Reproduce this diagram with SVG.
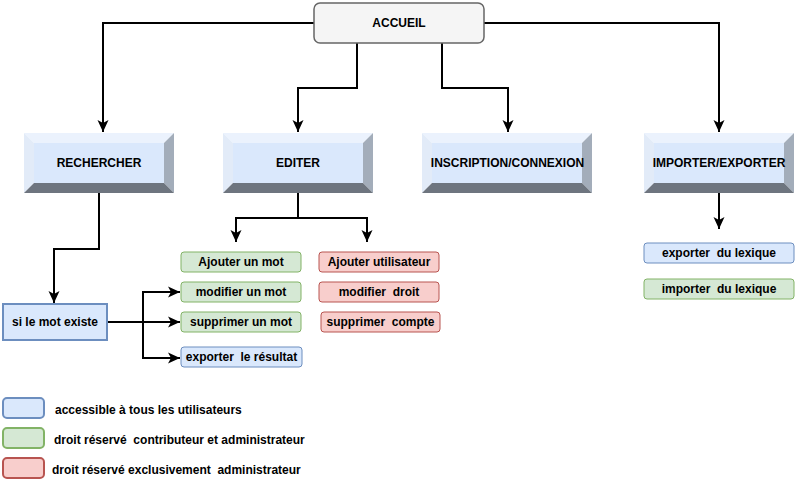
<svg xmlns="http://www.w3.org/2000/svg" width="797" height="500" viewBox="0 0 797 500">
<style>
text{font-family:"Liberation Sans",Arial,Helvetica,sans-serif;font-size:12px;font-weight:bold;fill:#000;white-space:pre}
.c{text-anchor:middle}
.conn path{fill:none;stroke:#000;stroke-width:2}
.bt{fill:#ebf2fd}.bl{fill:#e2ebf8}.br{fill:#a3adba}.bb{fill:#6e757f}.bi{fill:#dae8fc}
.blue{fill:#dae8fc;stroke:#6c8ebf;stroke-width:1}
.green{fill:#d5e8d4;stroke:#82b366;stroke-width:1}
.red{fill:#f8cecc;stroke:#b85450;stroke-width:1}
.thick{stroke-width:2}
</style>
<defs>
<marker id="arr" markerUnits="userSpaceOnUse" markerWidth="12" markerHeight="12" viewBox="0 0 12 12" refX="12" refY="6" orient="auto">
<path d="M0,0.5 L12,6 L0,11.5 L3,6 Z" fill="#000"/>
</marker>
</defs>
<rect width="797" height="500" fill="#fff"/>

<g class="conn">
<path d="M314,23 H103 V132" marker-end="url(#arr)"/>
<path d="M357,43 V88 H298 V132" marker-end="url(#arr)"/>
<path d="M442,43 V88 H508 V132" marker-end="url(#arr)"/>
<path d="M484,23 H719 V132" marker-end="url(#arr)"/>
<path d="M99,193 V249 H54 V303" marker-end="url(#arr)"/>
<path d="M298,193 V218 H236 V242" marker-end="url(#arr)"/>
<path d="M298,218 H367 V242" marker-end="url(#arr)"/>
<path d="M719,193 V229" marker-end="url(#arr)"/>
<path d="M107,322 H180" marker-end="url(#arr)"/>
<path d="M143,322 V292 H180" marker-end="url(#arr)"/>
<path d="M143,322 V358 H180" marker-end="url(#arr)"/>
</g>

<g id="accueil">
<rect x="314" y="3" width="170" height="40" rx="6" fill="#f5f5f5" stroke="#666" stroke-width="1.5"/>
<text x="399" y="27" class="c">ACCUEIL</text>
</g>

<g id="rechercher">
<polygon class="bt" points="24,133 174,133 164,143 34,143"/>
<polygon class="bl" points="24,133 34,143 34,183 24,193"/>
<polygon class="br" points="174,133 174,193 164,183 164,143"/>
<polygon class="bb" points="24,193 34,183 164,183 174,193"/>
<rect class="bi" x="34" y="143" width="130" height="40"/>
<text x="99" y="167" class="c">RECHERCHER</text>
</g>

<g id="editer">
<polygon class="bt" points="223,133 373,133 363,143 233,143"/>
<polygon class="bl" points="223,133 233,143 233,183 223,193"/>
<polygon class="br" points="373,133 373,193 363,183 363,143"/>
<polygon class="bb" points="223,193 233,183 363,183 373,193"/>
<rect class="bi" x="233" y="143" width="130" height="40"/>
<text x="298" y="167" class="c">EDITER</text>
</g>

<g id="inscription">
<polygon class="bt" points="422,133 592,133 582,143 432,143"/>
<polygon class="bl" points="422,133 432,143 432,183 422,193"/>
<polygon class="br" points="592,133 592,193 582,183 582,143"/>
<polygon class="bb" points="422,193 432,183 582,183 592,193"/>
<rect class="bi" x="432" y="143" width="150" height="40"/>
<text x="507.5" y="167" class="c">INSCRIPTION/CONNEXION</text>
</g>

<g id="importer">
<polygon class="bt" points="644,133 794,133 784,143 654,143"/>
<polygon class="bl" points="644,133 654,143 654,183 644,193"/>
<polygon class="br" points="794,133 794,193 784,183 784,143"/>
<polygon class="bb" points="644,193 654,183 784,183 794,193"/>
<rect class="bi" x="654" y="143" width="130" height="40"/>
<text x="719" y="167" class="c">IMPORTER/EXPORTER</text>
</g>

<g id="si-le-mot">
<rect class="blue thick" x="3" y="304" width="104" height="36"/>
<text x="55" y="326" class="c">si le mot existe</text>
</g>

<g id="ajouter-mot">
<rect class="green" x="181" y="252" width="120" height="20" rx="3"/>
<text x="241" y="266" class="c">Ajouter un mot</text>
</g>
<g id="modifier-mot">
<rect class="green" x="181" y="282" width="120" height="20" rx="3"/>
<text x="241" y="296" class="c">modifier un mot</text>
</g>
<g id="supprimer-mot">
<rect class="green" x="181" y="312" width="120" height="20" rx="3"/>
<text x="241" y="326" class="c">supprimer un mot</text>
</g>
<g id="exporter-resultat">
<rect class="blue" x="181" y="347" width="121" height="20" rx="3"/>
<text x="241.5" y="361" class="c">exporter  le résultat</text>
</g>

<g id="ajouter-utilisateur">
<rect class="red" x="319" y="252" width="120" height="20" rx="3"/>
<text x="379" y="266" class="c">Ajouter utilisateur</text>
</g>
<g id="modifier-droit">
<rect class="red" x="319" y="282" width="120" height="20" rx="3"/>
<text x="379" y="296" class="c">modifier  droit</text>
</g>
<g id="supprimer-compte">
<rect class="red" x="321" y="312" width="119" height="20" rx="3"/>
<text x="380.5" y="326" class="c">supprimer  compte</text>
</g>

<g id="exporter-lexique">
<rect class="blue" x="644" y="243" width="150" height="20" rx="3"/>
<text x="719" y="257" class="c">exporter  du lexique</text>
</g>
<g id="importer-lexique">
<rect class="green" x="644" y="279" width="150" height="20" rx="3"/>
<text x="719" y="293" class="c">importer  du lexique</text>
</g>

<g id="legend">
<rect class="blue thick" x="3" y="398" width="41" height="20" rx="4"/>
<text x="55" y="414">accessible à tous les utilisateurs</text>
<rect class="green thick" x="3" y="428" width="41" height="20" rx="4"/>
<text x="54" y="444">droit réservé  contributeur et administrateur</text>
<rect class="red thick" x="3" y="458" width="41" height="20" rx="4"/>
<text x="52" y="474">droit réservé exclusivement  administrateur</text>
</g>
</svg>
